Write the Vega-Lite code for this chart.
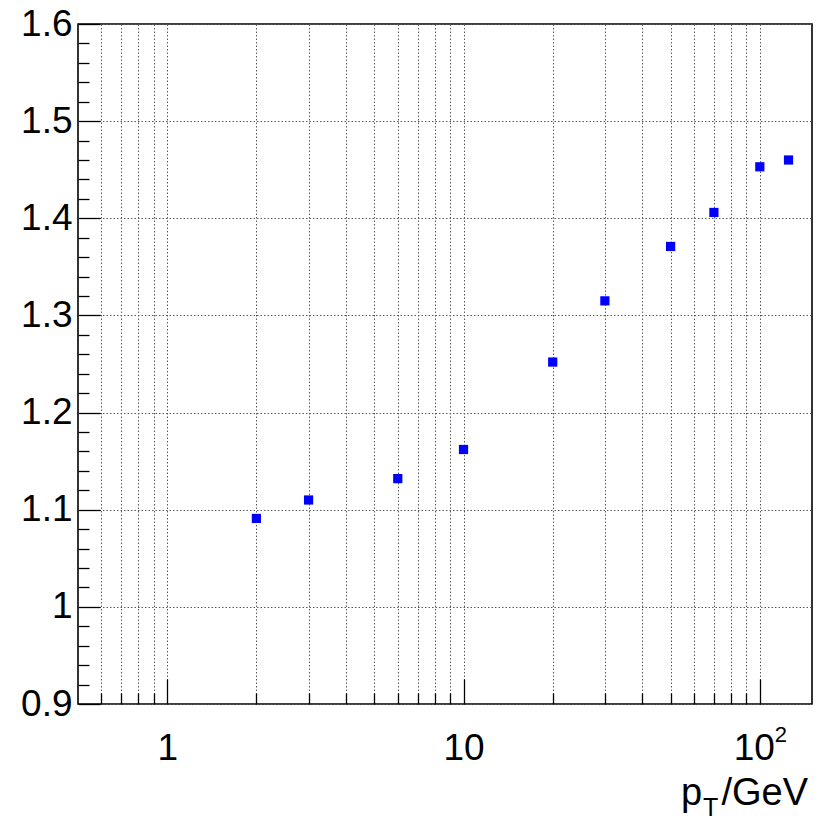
{
  "$schema": "https://vega.github.io/schema/vega-lite/v6.json",
  "width": 734,
  "height": 680,
  "autosize": {"type": "none"},
  "padding": {"left": 78, "top": 24, "right": 11, "bottom": 116},
  "background": "white",
  "config": {
    "font": "Liberation Sans",
    "view": {"stroke": "#000000", "strokeWidth": 1.6},
    "axis": {"domain": false, "title": null, "tickColor": "#000000", "tickWidth": 1.3, "gridColor": "#5a5a5a", "gridDash": [1.5, 2], "gridWidth": 1}
  },
  "data": {
    "values": [
      {"pt": 2, "r": 1.091},
      {"pt": 3, "r": 1.110},
      {"pt": 6, "r": 1.132},
      {"pt": 10, "r": 1.162},
      {"pt": 20, "r": 1.252},
      {"pt": 30, "r": 1.315},
      {"pt": 50, "r": 1.371},
      {"pt": 70, "r": 1.406},
      {"pt": 100, "r": 1.453},
      {"pt": 125, "r": 1.460}
    ]
  },
  "layer": [
    {
      "mark": {"type": "point", "opacity": 0},
      "encoding": {
        "x": {
          "field": "pt", "type": "quantitative",
          "scale": {"type": "log", "domain": [0.5, 150], "nice": false},
          "axis": {"orient": "bottom", "values": [0.6, 0.7, 0.8, 0.9, 2, 3, 4, 5, 6, 7, 8, 9, 20, 30, 40, 50, 60, 70, 80, 90], "tickSize": -11, "labels": false, "grid": true}
        },
        "y": {
          "field": "r", "type": "quantitative",
          "scale": {"domain": [0.9, 1.6], "zero": false, "nice": false},
          "axis": {"orient": "left", "values": [0.92, 0.94, 0.96, 0.98, 1.02, 1.04, 1.06, 1.08, 1.12, 1.14, 1.16, 1.18, 1.22, 1.24, 1.26, 1.28, 1.32, 1.34, 1.36, 1.38, 1.42, 1.44, 1.46, 1.48, 1.52, 1.54, 1.56, 1.58], "tickSize": -11, "labels": false, "grid": false}
        }
      }
    },
    {
      "mark": {"type": "point", "opacity": 0},
      "encoding": {
        "x": {
          "field": "pt", "type": "quantitative",
          "axis": {"orient": "bottom", "values": [1, 10, 100], "tickSize": -25, "labels": false, "grid": true}
        },
        "y": {
          "field": "r", "type": "quantitative",
          "axis": {"orient": "left", "values": [0.9, 1.0, 1.1, 1.2, 1.3, 1.4, 1.5, 1.6], "tickSize": -22, "labels": false, "grid": true}
        }
      }
    },
    {
      "mark": {"type": "point", "opacity": 0},
      "encoding": {
        "x": {
          "field": "pt", "type": "quantitative",
          "axis": {"orient": "bottom", "values": [100], "ticks": false, "grid": false, "labelExpr": "'10'", "labelFontSize": 37, "labelColor": "#000000", "labelBaseline": "alphabetic", "labelPadding": 55, "labelOffset": -6, "labelFlush": false}
        }
      }
    },
    {
      "mark": {"type": "square", "color": "#0000ff", "opacity": 1, "size": 85},
      "encoding": {
        "x": {
          "field": "pt", "type": "quantitative",
          "axis": {"orient": "bottom", "values": [1, 10], "ticks": false, "grid": false, "format": "~g", "labelFontSize": 37, "labelColor": "#000000", "labelBaseline": "alphabetic", "labelPadding": 55, "labelFlush": false}
        },
        "y": {
          "field": "r", "type": "quantitative",
          "axis": {"orient": "left", "values": [0.9, 1.0, 1.1, 1.2, 1.3, 1.4, 1.5, 1.6], "ticks": false, "grid": false, "format": "~g", "labelFontSize": 37, "labelColor": "#000000", "labelPadding": 6, "labelFlush": false}
        }
      }
    },
    {
      "data": {"values": [{}]},
      "mark": {"type": "text", "text": "2", "fontSize": 22, "align": "left", "baseline": "alphabetic", "dx": 15, "dy": 38, "color": "#000000"},
      "encoding": {
        "x": {"datum": 100, "type": "quantitative", "axis": null},
        "y": {"datum": 0.9, "type": "quantitative", "axis": null}
      }
    },
    {
      "data": {"values": [{}]},
      "mark": {"type": "text", "text": "/GeV", "fontSize": 38, "align": "right", "baseline": "alphabetic", "dx": -4, "dy": 101, "color": "#000000"},
      "encoding": {
        "x": {"datum": 150, "type": "quantitative", "axis": null},
        "y": {"datum": 0.9, "type": "quantitative", "axis": null}
      }
    },
    {
      "data": {"values": [{}]},
      "mark": {"type": "text", "text": "p", "fontSize": 38, "align": "left", "baseline": "alphabetic", "dx": -131, "dy": 101, "color": "#000000"},
      "encoding": {
        "x": {"datum": 150, "type": "quantitative", "axis": null},
        "y": {"datum": 0.9, "type": "quantitative", "axis": null}
      }
    },
    {
      "data": {"values": [{}]},
      "mark": {"type": "text", "text": "T", "fontSize": 25, "align": "left", "baseline": "alphabetic", "dx": -109, "dy": 112, "color": "#000000"},
      "encoding": {
        "x": {"datum": 150, "type": "quantitative", "axis": null},
        "y": {"datum": 0.9, "type": "quantitative", "axis": null}
      }
    }
  ],
  "resolve": {"axis": {"x": "independent", "y": "independent"}}
}
